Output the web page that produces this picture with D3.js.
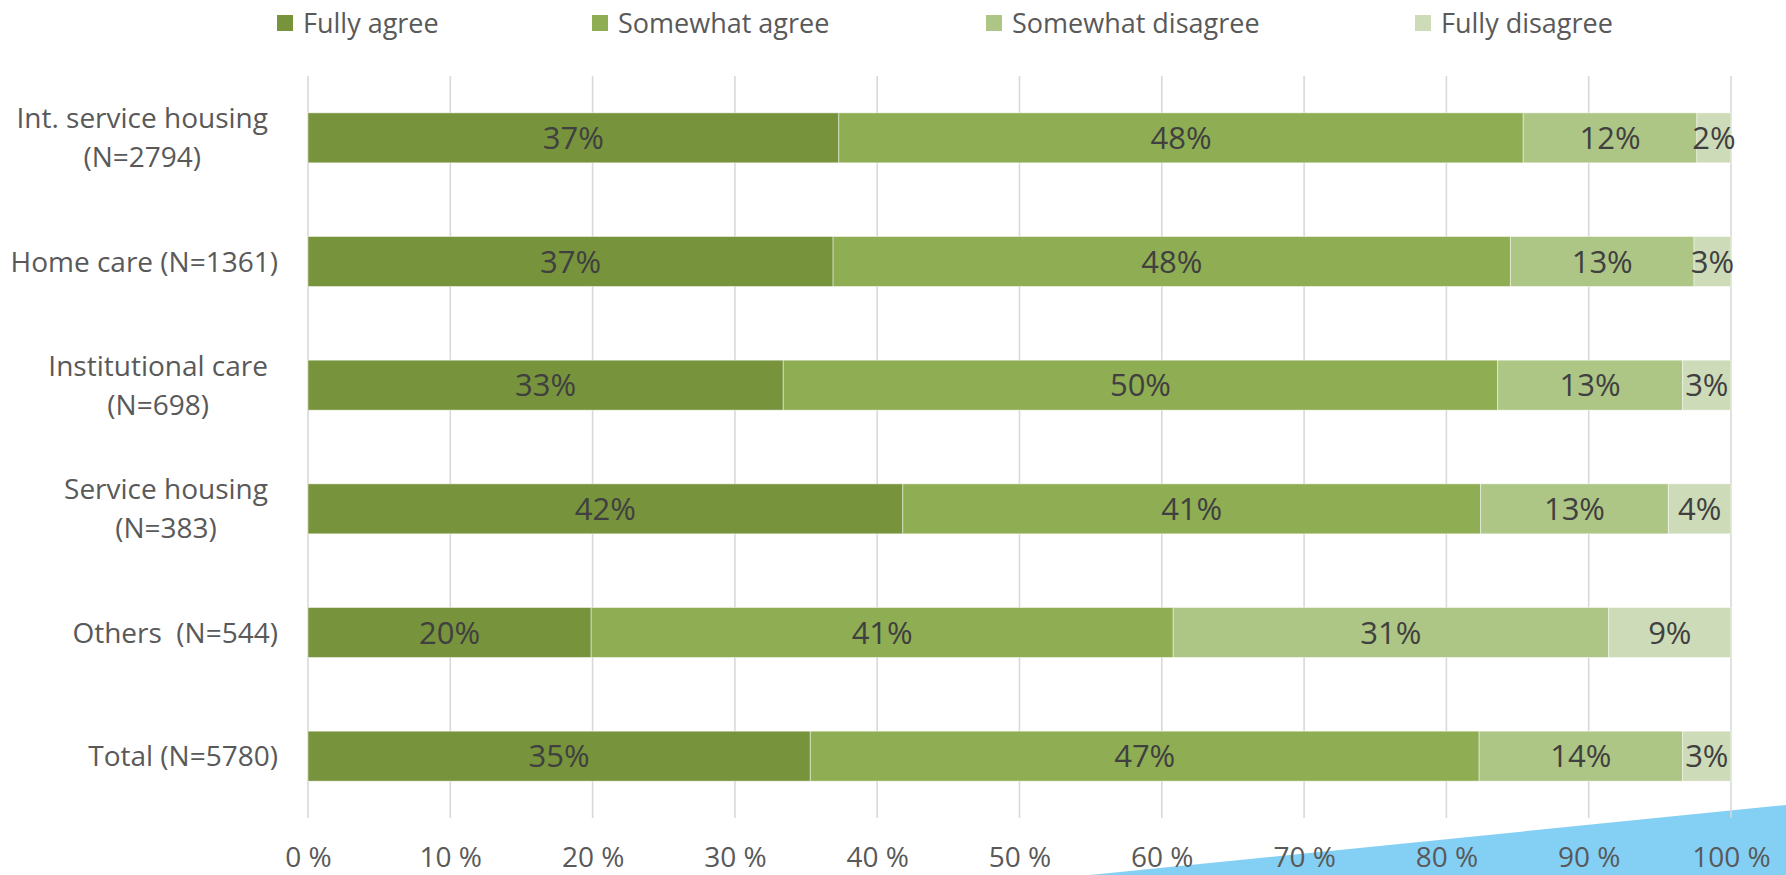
<!DOCTYPE html>
<html>
<head>
<meta charset="utf-8">
<script src="https://cdn.jsdelivr.net/npm/d3@7"></script>
<style>
  html, body { margin: 0; padding: 0; background: #fff; }
  svg { display: block; }
  text { font-family: "Open Sans", "Noto Sans", sans-serif; }
</style>
</head>
<body>
<svg id="chart" width="1786" height="875"></svg>
<script>
// Survey answers by type of care, in percent of respondents
const categories = [
  "Int. service housing\n(N=2794)",
  "Home care (N=1361)",
  "Institutional care\n(N=698)",
  "Service housing\n(N=383)",
  "Others  (N=544)",
  "Total (N=5780)"
];
const seriesNames = ["Fully agree", "Somewhat agree", "Somewhat disagree", "Fully disagree"];
const fullyAgree       = [37.3, 36.9, 33.4, 41.8, 19.9, 35.3];
const somewhatAgree    = [48.1, 47.6, 50.2, 40.6, 40.9, 47.0];
const somewhatDisagree = [12.2, 12.9, 13.0, 13.2, 30.6, 14.3];
const fullyDisagree    = [ 2.4,  2.6,  3.4,  4.4,  8.6,  3.4];
const xTicks = [0, 10, 20, 30, 40, 50, 60, 70, 80, 90, 100];

const colors = ["#77933C", "#8FAD53", "#AEC685", "#CEDBB8"];
const seriesValues = [fullyAgree, somewhatAgree, somewhatDisagree, fullyDisagree];

const rows = categories.map((c, i) => {
  const r = { category: c };
  seriesNames.forEach((s, j) => { r[s] = seriesValues[j][i]; });
  return r;
});

const svg = d3.select("#chart");
const W = 1786, H = 875;
const plot = { left: 308, right: 1731, top: 76, bottom: 818 };

const x = d3.scaleLinear().domain([0, 100]).range([plot.left, plot.right]);
const y = d3.scaleBand().domain(categories).range([plot.top, plot.bottom])
  .paddingInner(0.596).paddingOuter(0.298);

// decorative corner wedge
svg.append("path")
  .attr("d", `M1090,${H} L${W},805 L${W},${H} Z`)
  .attr("fill", "#84D0F4");

// vertical gridlines
svg.append("g").selectAll("line").data(xTicks).join("line")
  .attr("x1", d => x(d)).attr("x2", d => x(d))
  .attr("y1", plot.top).attr("y2", plot.bottom)
  .attr("stroke", "#D9D9D9").attr("stroke-width", 1.6);

// stacked bars
const stack = d3.stack().keys(seriesNames)(rows);
const layers = svg.append("g").selectAll("g").data(stack).join("g")
  .attr("fill", (d, i) => colors[i]);

layers.selectAll("rect").data(d => d).join("rect")
  .attr("x", d => x(d[0]))
  .attr("width", d => x(d[1]) - x(d[0]))
  .attr("y", d => y(d.data.category))
  .attr("height", y.bandwidth())
  .attr("stroke", "rgba(255,255,255,0.45)")
  .attr("stroke-width", 1);

// value labels
const labels = svg.append("g");
stack.forEach(layer => {
  layer.forEach(d => {
    labels.append("text")
      .attr("x", (x(d[0]) + x(d[1])) / 2)
      .attr("y", y(d.data.category) + y.bandwidth() / 2)
      .attr("dy", "0.36em")
      .attr("text-anchor", "middle")
      .attr("font-size", 31)
      .attr("fill", "#404040")
      .text(Math.round(d[1] - d[0]) + "%");
  });
});

// x axis labels
const xAxis = svg.append("g").attr("transform", `translate(0,${plot.bottom})`)
  .call(d3.axisBottom(x).tickValues(xTicks).tickSize(0).tickPadding(29)
    .tickFormat(d => d + " %"));
xAxis.select(".domain").remove();
xAxis.selectAll("text").attr("font-size", 28).attr("fill", "#595959")
  .attr("font-family", "'Open Sans', sans-serif");

// category labels
const catG = svg.append("g");
categories.forEach(c => {
  const lines = c.split("\n");
  const cy = y(c) + y.bandwidth() / 2;
  const lh = 39;
  if (lines.length === 1) {
    catG.append("text")
      .attr("x", 278).attr("y", cy).attr("dy", "0.36em")
      .attr("text-anchor", "end")
      .attr("font-size", 28).attr("fill", "#595959")
      .style("white-space", "pre")
      .text(lines[0]);
  } else {
    const g = catG.append("g");
    const ts = lines.map((l, i) => g.append("text")
      .attr("y", cy + (i - (lines.length - 1) / 2) * lh).attr("dy", "0.36em")
      .attr("text-anchor", "middle")
      .attr("font-size", 28).attr("fill", "#595959")
      .text(l));
    const wMax = d3.max(ts, t => t.node().getComputedTextLength());
    ts.forEach(t => t.attr("x", 268 - wMax / 2));
  }
});

// legend
const legendX = [277, 592, 986, 1415];
const legend = svg.append("g");
seriesNames.forEach((s, i) => {
  legend.append("rect")
    .attr("x", legendX[i]).attr("y", 15).attr("width", 16).attr("height", 16)
    .attr("fill", colors[i]);
  legend.append("text")
    .attr("x", legendX[i] + 26).attr("y", 23).attr("dy", "0.36em")
    .attr("font-size", 27).attr("fill", "#595959")
    .text(s);
});
</script>
</body>
</html>
